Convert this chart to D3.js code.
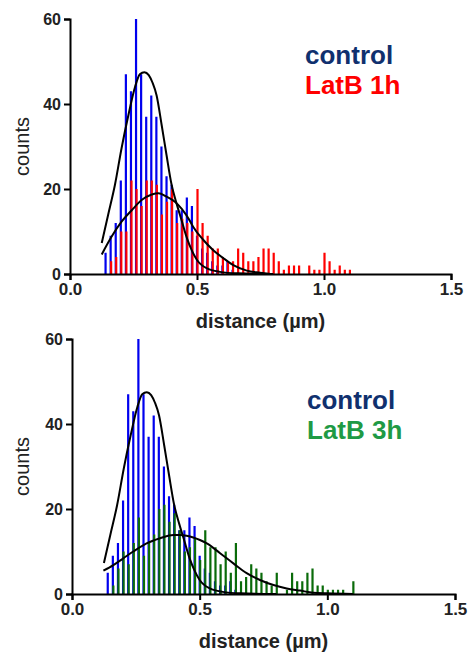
<!DOCTYPE html>
<html>
<head>
<meta charset="utf-8">
<script src="https://cdn.jsdelivr.net/npm/d3@7"></script>
<style>
  body { margin: 0; background: #fff; }
  svg { display: block; font-family: Arial, "Liberation Sans", sans-serif; }
</style>
</head>
<body>
<svg id="chart" width="471" height="659"></svg>
<script>
// bin centres (µm)
const bins = [0.14, 0.16, 0.18, 0.20, 0.22, 0.24, 0.26, 0.28, 0.30, 0.32,
  0.34, 0.36, 0.38, 0.40, 0.42, 0.44, 0.46, 0.48, 0.50, 0.52,
  0.54, 0.56, 0.58, 0.60, 0.62, 0.64, 0.66, 0.68, 0.70, 0.72,
  0.74, 0.76, 0.78, 0.80, 0.82, 0.84, 0.86, 0.88, 0.90, 0.92,
  0.94, 0.96, 0.98, 1.00, 1.02, 1.04, 1.06, 1.08, 1.10];

const control = [5, 9, 12, 22, 47, 43, 60, 47, 37, 42,
  37, 30, 23, 21, 15, 15, 18, 16, 9, 6,
  5, 3, 2, 2, 3, 1, 0, 0, 0, 0,
  0, 0, 0, 0, 0, 0, 0, 0, 0, 0,
  0, 0, 0, 0, 0, 0, 0, 0, 0];

const latB1h = [0, 3, 4, 10, 10, 22, 20, 16, 22, 22,
  21, 14, 17, 20, 12, 13, 12, 10, 20, 12,
  9, 6, 6, 4, 3, 3, 6, 5, 3, 3,
  4, 6, 6, 5, 3, 1, 2, 2, 2, 0,
  2, 1, 1, 5, 3, 1, 2, 1, 1];

const latB3h = [0, 2, 6, 10, 7, 12, 18, 9, 12, 14,
  20, 21, 17, 19, 15, 10, 11, 13, 8, 15,
  11, 11, 7, 10, 5, 12, 3, 4, 7, 6,
  5, 3, 2, 5, 0, 1, 5, 3, 3, 5,
  6, 2, 2, 1, 1, 1, 1, 0, 3];

// fitted curves, points: [distance, counts]
const fitControl = [[0.125, 7.3], [0.15, 13.9], [0.177, 21], [0.203, 29.6], [0.23, 37.4],
  [0.256, 44], [0.275, 47], [0.293, 47.5], [0.31, 46.8], [0.325, 45], [0.341, 42],
  [0.361, 35], [0.38, 28], [0.40, 21], [0.42, 16.5], [0.44, 12.5], [0.46, 8.5],
  [0.48, 5.5], [0.50, 3.3], [0.54, 1.3], [0.59, 0.5], [0.66, 0.15], [0.8, 0]];

const fitLatB1h = [[0.125, 4.6], [0.164, 8.8], [0.203, 12.3], [0.243, 15], [0.282, 17.4],
  [0.322, 18.7], [0.348, 19], [0.38, 18.2], [0.413, 17], [0.44, 15.3], [0.472, 12.5],
  [0.486, 11], [0.525, 8], [0.564, 5.6], [0.604, 3.7], [0.643, 2.1], [0.696, 0.8],
  [0.748, 0.3], [0.79, 0]];

const fitLatB3h = [[0.123, 5.5], [0.162, 6.8], [0.201, 8.4], [0.24, 10], [0.292, 11.9],
  [0.345, 13.1], [0.397, 13.9], [0.423, 13.9], [0.449, 13.7], [0.475, 13.3], [0.501, 12.7],
  [0.528, 11.9], [0.58, 9.6], [0.632, 7.2], [0.684, 4.9], [0.736, 3.3], [0.789, 2.1],
  [0.841, 1.3], [0.893, 0.8], [0.945, 0.3], [1.0, 0.15], [1.1, 0]];

const xTicks = [0, 0.5, 1.0, 1.5];
const yTicks = [0, 20, 40, 60];

const panels = [
  { left: 70, right: 451, top: 19, bottom: 274,
    series: latB1h, color: "#ff0000", fit: fitLatB1h,
    label: "LatB 1h", labelColor: "#ff0000", legendY: 64 },
  { left: 72, right: 455, top: 339, bottom: 594,
    series: latB3h, color: "#0a6b0a", fit: fitLatB3h,
    label: "LatB 3h", labelColor: "#1f9a45", legendY: 409 }
];

const svg = d3.select("#chart");

panels.forEach(p => {
  const x = d3.scaleLinear().domain([0, 1.5]).range([p.left, p.right]);
  const y = d3.scaleLinear().domain([0, 60]).range([p.bottom, p.top]);
  const g = svg.append("g");

  // control bars behind, treatment bars in front
  const barW = 2.2;
  g.append("g").selectAll("rect")
    .data(bins.map((b, i) => ({ b, v: control[i] })).filter(d => d.v > 0))
    .join("rect")
    .attr("x", d => x(d.b) - barW / 2)
    .attr("y", d => y(d.v))
    .attr("width", barW)
    .attr("height", d => y(0) - y(d.v))
    .attr("fill", "#0000ee");

  g.append("g").selectAll("rect")
    .data(bins.map((b, i) => ({ b, v: p.series[i] })).filter(d => d.v > 0))
    .join("rect")
    .attr("x", d => x(d.b) - barW / 2 + 0.5)
    .attr("y", d => y(d.v))
    .attr("width", barW)
    .attr("height", d => y(0) - y(d.v))
    .attr("fill", p.color);

  const line = d3.line()
    .x(d => x(d[0]))
    .y(d => y(d[1]))
    .curve(d3.curveMonotoneX);

  [fitControl, p.fit].forEach(f => {
    g.append("path")
      .attr("d", line(f))
      .attr("fill", "none")
      .attr("stroke", "#000")
      .attr("stroke-width", 2);
  });

  // axes
  const xAxis = g.append("g")
    .attr("transform", `translate(0,${p.bottom})`)
    .call(d3.axisBottom(x).tickValues(xTicks).tickFormat(d3.format(".1f")).tickSize(6).tickPadding(3));
  const yAxis = g.append("g")
    .attr("transform", `translate(${p.left},0)`)
    .call(d3.axisLeft(y).tickValues(yTicks).tickSize(6).tickPadding(3));

  [xAxis, yAxis].forEach(a => {
    a.select(".domain").attr("stroke-width", 2);
    a.selectAll(".tick line").attr("stroke-width", 2);
    a.selectAll(".tick text")
      .attr("fill", "#222")
      .attr("font-weight", "bold")
      .attr("font-family", "Arial, 'Liberation Sans', sans-serif");
  });
  xAxis.selectAll(".tick text").attr("font-size", 17);
  yAxis.selectAll(".tick text").attr("font-size", 16);

  g.append("text")
    .attr("x", (p.left + p.right) / 2)
    .attr("y", p.bottom + 54)
    .attr("text-anchor", "middle")
    .attr("font-size", 20)
    .attr("font-weight", "bold")
    .attr("fill", "#222")
    .text("distance (µm)");

  g.append("text")
    .attr("transform", `translate(29,${(p.top + p.bottom) / 2}) rotate(-90)`)
    .attr("text-anchor", "middle")
    .attr("font-size", 20)
    .attr("fill", "#222")
    .text("counts");

  // legend
  g.append("text")
    .attr("x", p.left + 235)
    .attr("y", p.legendY)
    .attr("font-size", 26)
    .attr("font-weight", "bold")
    .attr("fill", "#10306e")
    .text("control");
  g.append("text")
    .attr("x", p.left + 235)
    .attr("y", p.legendY + 30)
    .attr("font-size", 26)
    .attr("font-weight", "bold")
    .attr("fill", p.labelColor)
    .text(p.label);
});
</script>
</body>
</html>
